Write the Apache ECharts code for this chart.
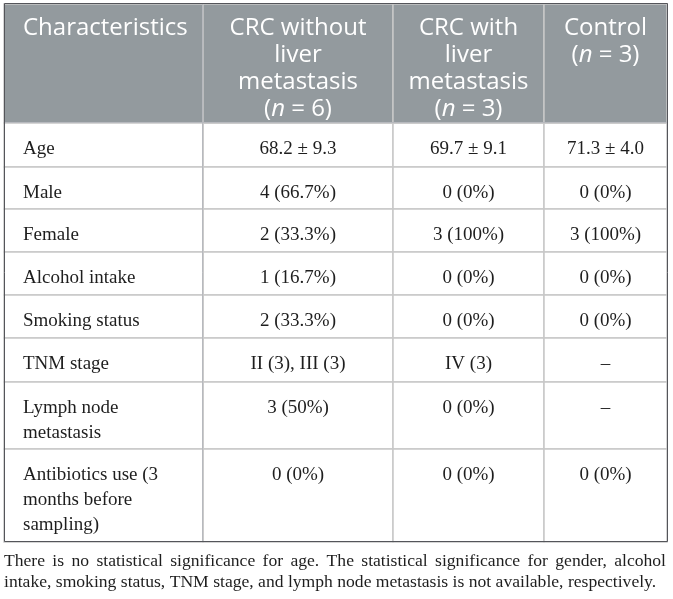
<!DOCTYPE html>
<html lang="en">
<head>
  <meta charset="UTF-8">
  <title>Patient characteristics</title>
  <script src="https://cdn.jsdelivr.net/npm/echarts@6/dist/echarts.min.js"></script>
  <style>
    html, body { margin: 0; padding: 0; background: #fff; }
    #main { width: 673px; height: 599px; }
  </style>
</head>
<body>
<div id="main"></div>
<script>
  // table content
  const cornerLabel = 'Characteristics';
  const groups = [
    'CRC without\nliver\nmetastasis\n({i|n} = 6)',
    'CRC with\nliver\nmetastasis\n({i|n} = 3)',
    'Control\n({i|n} = 3)'
  ];
  const rows = [
    'Age',
    'Male',
    'Female',
    'Alcohol intake',
    'Smoking status',
    'TNM stage',
    'Lymph node\nmetastasis',
    'Antibiotics use (3\nmonths before\nsampling)'
  ];
  const withoutMeta = ['68.2 ± 9.3', '4 (66.7%)', '2 (33.3%)', '1 (16.7%)', '2 (33.3%)', 'II (3), III (3)', '3 (50%)', '0 (0%)'];
  const withMeta = ['69.7 ± 9.1', '0 (0%)', '3 (100%)', '0 (0%)', '0 (0%)', 'IV (3)', '0 (0%)', '0 (0%)'];
  const control = ['71.3 ± 4.0', '0 (0%)', '3 (100%)', '0 (0%)', '0 (0%)', '–', '–', '0 (0%)'];
  const footLine1 = 'There is no statistical significance for age. The statistical significance for gender, alcohol';
  const footLine2 = 'intake, smoking status, TNM stage, and lymph node metastasis is not available, respectively.';

  // layout sizes (px)
  const colWidths = [190, 151, 123.5];
  const rowHeights = [44, 42.5, 43, 43, 43, 43.5, 67.5, 92.5];

  const headBg = '#939a9e';
  const lineColor = '#c8c8c8';
  const sans = '"Open Sans", Lato, sans-serif';
  const serif = '"Liberation Serif", "DejaVu Serif", serif';
  const footSize = 17.6;

  // justify the first footnote line over the table width
  const ctx = document.createElement('canvas').getContext('2d');
  ctx.font = footSize + 'px ' + serif;
  const words = footLine1.split(' ');
  const wordsWidth = words.reduce((s, w) => s + ctx.measureText(w).width, 0);
  const gap = (662 - wordsWidth) / (words.length - 1);
  const justified = words.map((w, i) => i < words.length - 1 ? '{w|' + w + '}' : '{l|' + w + '}').join('');

  const headLabel = {
    color: '#fff',
    fontFamily: sans,
    fontSize: 24,
    lineHeight: 27,
    position: 'insideTop',
    align: 'center',
    verticalAlign: 'top',
    padding: [11, 0, 0, 0],
    overflow: 'none',
    rich: {
      i: { color: '#fff', fontFamily: sans, fontSize: 24, lineHeight: 27, fontStyle: 'italic' }
    }
  };

  const bodyLabel = {
    color: '#1e1e1e',
    fontFamily: serif,
    fontSize: 19,
    lineHeight: 25,
    position: 'insideTop',
    align: 'center',
    verticalAlign: 'top',
    padding: [14, 0, 0, 0],
    overflow: 'none'
  };

  const cols = [withoutMeta, withMeta, control];
  const bodyData = [];
  cols.forEach((col, ci) => {
    col.forEach((v, ri) => {
      bodyData.push({ coord: [ci, ri], value: v });
    });
  });

  const footStyle = { fontFamily: serif, fontSize: footSize, lineHeight: 21, color: '#1e1e1e' };

  const chart = echarts.init(document.getElementById('main'));
  chart.setOption({
    animation: false,
    title: {
      text: justified + '\n' + footLine2,
      left: 4,
      top: 551,
      padding: 0,
      textStyle: Object.assign({ fontWeight: 'normal' }, footStyle, {
        rich: {
          w: Object.assign({}, footStyle, { padding: [0, gap, 0, 0] }),
          l: footStyle
        }
      })
    },
    matrix: {
      left: 4,
      top: 3.5,
      width: 663,
      height: 538,
      x: {
        levelSize: 119,
        data: groups.map((g, i) => ({ value: g, size: colWidths[i] })),
        itemStyle: { color: headBg, borderColor: lineColor, borderWidth: 1.5 },
        label: headLabel
      },
      y: {
        levelSize: 198.5,
        data: rows.map((r, i) => ({ value: r, size: rowHeights[i] })),
        itemStyle: { color: '#fff', borderColor: lineColor, borderWidth: 1.5 },
        label: Object.assign({}, bodyLabel, {
          position: 'insideTopLeft',
          align: 'left',
          padding: [14, 0, 0, 19]
        })
      },
      corner: {
        data: [{ coord: [-1, -1], value: cornerLabel }],
        itemStyle: { color: headBg, borderColor: lineColor, borderWidth: 1.5 },
        label: Object.assign({}, headLabel, {
          position: 'insideTopLeft',
          align: 'left',
          padding: [11, 0, 0, 19]
        })
      },
      body: {
        data: bodyData,
        itemStyle: { color: '#fff', borderColor: lineColor, borderWidth: 1.5 },
        label: bodyLabel
      }
    }
  });
</script>
</body>
</html>
